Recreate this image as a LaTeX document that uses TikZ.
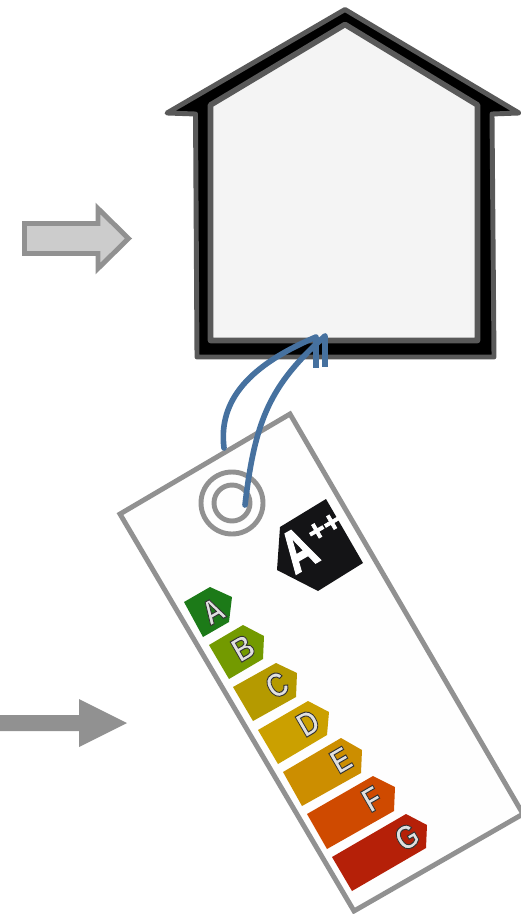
\documentclass[tikz,border=0pt]{standalone}
\usepackage{fontspec}
\setmainfont{Liberation Sans}
\usetikzlibrary{calc}
\definecolor{wallgrey}{HTML}{595959}
\definecolor{roomfill}{HTML}{F4F4F4}
\definecolor{tagstroke}{HTML}{919191}
\definecolor{arrowfill}{HTML}{CCCCCC}
\definecolor{stringblue}{HTML}{46719F}
\definecolor{badgeblack}{HTML}{141416}
\newcommand{\inked}[3]{\special{pdf:code 2 Tr #1 w #2}#3\special{pdf:code 0 Tr}}
\newcommand{\energyband}[8]{%
    \definecolor{bandcol}{HTML}{#1}%
    \fill[bandcol] (#3) -- (#4) -- (#5) -- (#6) -- (#7) -- cycle;
    \node[bandletter] (band#2) at (#8) {\inked{1.4}{0.2 G 0.88 g}{\scalebox{0.82}[1]{#2}}};
}

\begin{document}
\begin{tikzpicture}[
    x=0.05cm, y=-0.05cm,
    wall/.style={draw=wallgrey, line width=7pt, line join=round},
    tagline/.style={draw=tagstroke, line width=7pt},
    string/.style={draw=stringblue, line width=8pt, line cap=round},
    stub/.style={draw=stringblue, line width=8.5pt},
    bandletter/.style={rotate=30, inner sep=0pt, font=\bfseries\fontsize{48}{48}\selectfont, text=black!12}
]
\useasboundingbox (0,0) rectangle (520,914);

% House
\draw[wall, fill=black] (345,9.5) -- (519,113) -- (492,114) -- (494,357) -- (197,357) -- (195.5,114) -- (167,113) -- cycle;
\draw[wall, line width=8pt, fill=roomfill] (345,24.5) -- (477.5,105) -- (477.5,340.5) -- (210.5,340.5) -- (210.5,105) -- cycle;

% Flow arrows
\draw[draw=tagstroke, line width=7pt, fill=arrowfill] (24.5,223.5) -- (98,223.5) -- (98,208.5) -- (128.5,238.5) -- (98,268.5) -- (98,253.5) -- (24.5,253.5) -- cycle;
\fill[tagstroke] (0,715) -- (79,715) -- (79,699) -- (127,723) -- (79,747) -- (79,731) -- (0,731) -- cycle;

% Tag
\draw[tagline, fill=white!99.5!black] (290,414) -- (523,814) -- (354,911) -- (120,514) -- cycle;
\draw[tagline] (232,503) circle (31);
\draw[tagline] (232,503) circle (18);

% Badge
\fill[badgeblack] (326,499) -- (363,563) -- (318,591) -- (277,570) -- (280,527) -- cycle;
\node[rotate=30, anchor=base west, inner sep=0pt, text=white, font=\bfseries\fontsize{84}{84}\selectfont] (grade) at (295,575) {\inked{1.8}{1 G 1 g}{\scalebox{0.72}[1]{A}}\kern2pt\raisebox{25pt}{\fontsize{42}{42}\selectfont\inked{1}{1 G 1 g}{++}}};

% Energy bands
\energyband{1C7A18}{A}{184,602}{210,587}{232,597}{229,622}{203,637}{213,611}
\energyband{739A00}{B}{209,645}{243,625}{264,636}{263,659}{229,679}{243,648}
\energyband{B59A00}{C}{233,687}{276,663}{297,673}{296,697}{253,721}{277,685}
\energyband{CBA000}{D}{258,730}{308,701}{329,712}{327,735}{278,764}{308,723}
\energyband{CC8E00}{E}{283,772}{341,738}{362,750}{361,773}{302,806}{341,760}
\energyband{CF4A00}{F}{307,814}{373,776}{395,787}{394,811}{327,849}{372,799}
\energyband{B52008}{G}{332,857}{406,814}{427,825}{426,848}{352,891}{407,837}

% String through the ring
\coordinate (tagedge) at (224,448);
\coordinate (ringhole) at (245,505);
\coordinate (footleft) at (316,337);
\coordinate (footright) at (325,336);
\draw[string] (tagedge) .. controls (218,400) and (250,365) .. (footleft);
\draw[string] (ringhole) .. controls (255,420) and (270,385) .. (footright);
\draw[stub] (footleft) -- ++(0,31);
\draw[stub] (footright) -- ++(0,31);

\end{tikzpicture}
\end{document}
